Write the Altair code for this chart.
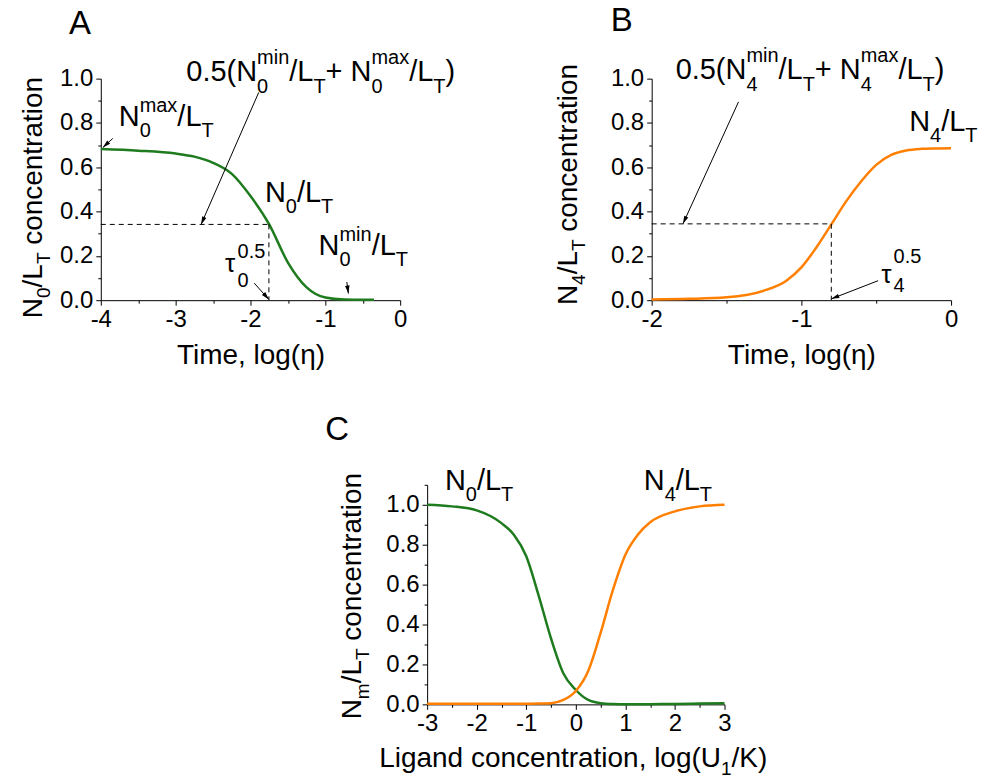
import math
import altair as alt
import pandas as pd

FONT = "Liberation Sans"
GREEN = "#1e7b1e"
ORANGE = "#ff7f00"

# ---- Panel A: unbound fraction N0/LT against log time ----
a_logt = [-4.0, -3.5, -3.0, -2.75, -2.5, -2.25, -2.0, -1.75, -1.5, -1.25, -1.0, -0.75, -0.5, -0.35]
a_n0 = [0.682, 0.675, 0.662, 0.648, 0.62, 0.57, 0.47, 0.342, 0.17, 0.058, 0.012, 0.003, 0.002, 0.002]
a_tau = -1.754

# ---- Panel B: fully bound fraction N4/LT against log time ----
b_logt = [-2.0, -1.75, -1.5, -1.25, -1.1, -1.0, -0.9, -0.8, -0.7, -0.6, -0.5, -0.4, -0.3, -0.2, -0.1, 0.0]
b_n4 = [0.003, 0.006, 0.013, 0.043, 0.088, 0.148, 0.238, 0.342, 0.447, 0.537, 0.611, 0.656, 0.676, 0.683, 0.685, 0.686]
b_tau = -0.8

# ---- Panel C: steady state against log ligand concentration ----
c_logu = [-3.0, -2.5, -2.0, -1.5, -1.25, -1.0, -0.75, -0.5, -0.25, 0.0, 0.25, 0.5, 0.75, 1.0, 1.25, 1.5, 2.0, 2.5, 3.0]
c_n0 = [1.0, 0.992, 0.972, 0.908, 0.85, 0.742, 0.545, 0.33, 0.155, 0.072, 0.022, 0.006, 0.002, 0.001, 0.001, 0.001, 0.002, 0.004, 0.006]
c_n4 = [0.003, 0.003, 0.003, 0.003, 0.003, 0.003, 0.004, 0.006, 0.022, 0.067, 0.167, 0.358, 0.575, 0.75, 0.85, 0.912, 0.967, 0.992, 1.0]

# approximate Arial / Liberation Sans advance widths (per 1000 em)
ADV = {"0": 556, "1": 556, "4": 556, "5": 556, ".": 278, "(": 333, ")": 333, "N": 722,
       "/": 278, "L": 556, "T": 611, "+": 584, " ": 278, "m": 833, "i": 222, "n": 556,
       "a": 556, "x": 500, "c": 500, "o": 556, "e": 556, "t": 278, "r": 333, ",": 278,
       "l": 222, "g": 556, "U": 722, "K": 667, "d": 556, "\u03c4": 480}


def text_width(s, size):
    return sum(ADV.get(ch, 556) for ch in s) / 1000.0 * size


MAJOR_Y = "round(datum.value * 10) % 2 == 0"
MAJOR_X = "datum.value % 1 == 0"


def x_axis(values, title=None):
    kw = dict(values=values, labelExpr=f"{MAJOR_X} ? '' + datum.value : ''",
              tickSize={"condition": {"test": MAJOR_X, "value": 5}, "value": 3},
              labelFontSize=24, labelPadding=2, labelFont=FONT, labelColor="black",
              domainColor="black", tickColor="black", grid=False, labelFlush=False,
              labelOverlap=False, title=title)
    if title:
        kw.update(titleFont=FONT, titleFontSize=28, titleFontWeight="normal",
                  titleColor="black", titlePadding=10)
    return alt.Axis(**kw)


def y_axis(values):
    return alt.Axis(values=values, title=None,
                    labelExpr=f"{MAJOR_Y} ? format(datum.value, '.1f') : ''",
                    tickSize={"condition": {"test": MAJOR_Y, "value": 5}, "value": 3},
                    labelFontSize=24, labelPadding=3, labelFont=FONT, labelColor="black",
                    domainColor="black", tickColor="black", grid=False, labelFlush=False,
                    labelOverlap=False)


class Panel:
    def __init__(self, xdom, ydom, width, height, xax, yax):
        self.width, self.height = width, height
        self.kx = width / (xdom[1] - xdom[0])
        self.ky = height / (ydom[1] - ydom[0])
        self.xs = alt.Scale(domain=xdom, nice=False, zero=False)
        self.ys = alt.Scale(domain=ydom, nice=False, zero=False)
        self.xax, self.yax = xax, yax

    def X(self, field):
        return alt.X(field, scale=self.xs, axis=self.xax)

    def Y(self, field):
        return alt.Y(field, scale=self.ys, axis=self.yax)


y_ticks_01 = [round(i * 0.1, 1) for i in range(11)]
y_ticks_011 = [round(i * 0.1, 1) for i in range(12)]

PA = Panel([-4, 0], [0, 1], 300, 222,
           x_axis([v / 2 for v in range(-8, 1)], "Time, log(\u03b7)"), y_axis(y_ticks_01))
PB = Panel([-2, 0], [0, 1], 300, 222,
           x_axis([v / 2 for v in range(-4, 1)], "Time, log(\u03b7)"), y_axis(y_ticks_01))
PC = Panel([-3, 3], [0, 1.1], 298, 220,
           x_axis([v / 2 for v in range(-6, 7)]), y_axis(y_ticks_011))


def rich(parts, x0, y0, P, big, small, sub=11, sup=15, vertical=False):
    """Lay out text pieces with sub/superscripts; returns rows in data units."""
    rows, along, i = [], 0.0, 0
    while i < len(parts):
        txt, role = parts[i]
        if role == "n":
            stripped = txt.lstrip(" ")
            along += text_width(txt[: len(txt) - len(stripped)], big)
            rows.append((stripped, along, 0.0, big))
            along += text_width(stripped, big)
            i += 1
        else:
            wmax = 0.0
            while i < len(parts) and parts[i][1] != "n":
                t2, r2 = parts[i]
                rows.append((t2, along, sub if r2 == "b" else -sup, small))
                wmax = max(wmax, text_width(t2, small))
                i += 1
            along += wmax
    out = []
    for txt, al, ac, sz in rows:
        if vertical:
            out.append({"x": x0 + ac / P.kx, "y": y0 + al / P.ky, "t": txt, "s": sz})
        else:
            out.append({"x": x0 + al / P.kx, "y": y0 - ac / P.ky, "t": txt, "s": sz})
    return out


def text_layer(rows, P, angle=0):
    return alt.Chart(pd.DataFrame(rows)).mark_text(
        align="left", baseline="alphabetic", font=FONT, color="black", angle=angle
    ).encode(
        x=P.X("x:Q"), y=P.Y("y:Q"), text="t:N",
        size=alt.Size("s:Q", scale=None, legend=None),
    )


ARROW_HEAD = "M0,0L0.45,1.6L-0.45,1.6Z"


def arrow_layers(segs, P):
    rows = []
    for x1, y1, x2, y2 in segs:
        ang = math.degrees(math.atan2((x2 - x1) * P.kx, (y2 - y1) * P.ky)) % 360
        rows.append({"x1": x1, "y1": y1, "x2": x2, "y2": y2, "ang": ang})
    df = pd.DataFrame(rows)
    shaft = alt.Chart(df).mark_rule(color="black", strokeWidth=1).encode(
        x=P.X("x1:Q"), y=P.Y("y1:Q"), x2="x2:Q", y2="y2:Q")
    head = alt.Chart(df).mark_point(shape=ARROW_HEAD, filled=True, color="black",
                                    opacity=1, size=100, strokeWidth=0).encode(
        x=P.X("x2:Q"), y=P.Y("y2:Q"), angle=alt.Angle("ang:Q", scale=None))
    return [shaft, head]


def dashed_layer(x_start, tau, half, P):
    df = pd.DataFrame({"x1": [x_start, tau], "y1": [half, half], "x2": [tau, tau], "y2": [half, 0.0]})
    return alt.Chart(df).mark_rule(color="black", strokeWidth=1, strokeDash=[5, 4]).encode(
        x=P.X("x1:Q"), y=P.Y("y1:Q"), x2="x2:Q", y2="y2:Q")


def curve(xv, yv, color, P):
    df = pd.DataFrame({"x": xv, "y": yv})
    return alt.Chart(df).mark_line(color=color, strokeWidth=2.5, interpolate="monotone").encode(
        x=P.X("x:Q"), y=P.Y("y:Q"))


def letter(txt, x, y, P):
    return text_layer([{"x": x, "y": y, "t": txt, "s": 33}], P)


# ---------------- Panel A ----------------
half_a = 0.5 * (min(a_n0) + max(a_n0))
a_texts = (
    rich([("0.5(N", "n"), ("min", "p"), ("0", "b"), ("/L", "n"), ("T", "b"), ("+ N", "n"),
          ("max", "p"), ("0", "b"), ("/L", "n"), ("T", "b"), (")", "n")],
         -2.857, 0.99, PA, 29, 20, sub=12, sup=17)
    + rich([("N", "n"), ("max", "p"), ("0", "b"), ("/L", "n"), ("T", "b")], -3.76, 0.788, PA, 29, 20, 11, 14)
    + rich([("N", "n"), ("0", "b"), ("/L", "n"), ("T", "b")], -1.807, 0.441, PA, 29, 20, 11, 14)
    + rich([("N", "n"), ("min", "p"), ("0", "b"), ("/L", "n"), ("T", "b")], -1.09, 0.203, PA, 29, 20, 11, 14)
    + rich([("\u03c4", "n"), ("0.5", "p"), ("0", "b")], -2.339, 0.126, PA, 26, 20, 15, 14)
)
a_ytitle = rich([("N", "n"), ("0", "b"), ("/L", "n"), ("T", "b"), (" concentration", "n")],
                -4.784, -0.081, PA, 28, 19, sub=8, vertical=True)

panel_a = alt.layer(
    curve(a_logt, a_n0, GREEN, PA),
    dashed_layer(-4.0, a_tau, half_a, PA),
    *arrow_layers([(-1.89, 0.938, -2.66, half_a), (-3.84, 0.73, -3.973, 0.689),
                   (-1.95, 0.077, a_tau, 0.003), (-0.713, 0.082, -0.692, 0.03)], PA),
    text_layer(a_texts, PA),
    text_layer(a_ytitle, PA, angle=270),
    letter("A", -4.425, 1.203, PA),
).properties(width=PA.width, height=PA.height)

# ---------------- Panel B ----------------
half_b = 0.5 * (min(b_n4) + max(b_n4))
b_texts = (
    rich([("0.5(N", "n"), ("min", "p"), ("4", "b"), ("/L", "n"), ("T", "b"), ("+ N", "n"),
          ("max", "p"), ("4", "b"), ("/L", "n"), ("T", "b"), (")", "n")],
         -1.84, 1.0, PB, 29, 20, sub=12, sup=17)
    + rich([("N", "n"), ("4", "b"), ("/L", "n"), ("T", "b")], -0.28, 0.762, PB, 29, 20, 11, 14)
    + rich([("\u03c4", "n"), ("0.5", "p"), ("4", "b")], -0.467, 0.076, PB, 26, 20, 9, 20)
)
b_ytitle = rich([("N", "n"), ("4", "b"), ("/L", "n"), ("T", "b"), (" concentration", "n")],
                -2.5, -0.022, PB, 28, 19, sub=8, vertical=True)

panel_b = alt.layer(
    curve(b_logt, b_n4, ORANGE, PB),
    dashed_layer(-2.0, b_tau, half_b, PB),
    *arrow_layers([(-1.42, 0.895, -1.791, half_b), (-0.487, 0.088, b_tau, 0.006)], PB),
    text_layer(b_texts, PB),
    text_layer(b_ytitle, PB, angle=270),
    letter("B", -2.273, 1.215, PB),
).properties(width=PB.width, height=PB.height)

# ---------------- Panel C ----------------
c_texts = (
    rich([("N", "n"), ("0", "b"), ("/L", "n"), ("T", "b")], -2.64, 1.075, PC, 29, 20, 11, 14)
    + rich([("N", "n"), ("4", "b"), ("/L", "n"), ("T", "b")], 1.37, 1.075, PC, 29, 20, 11, 14)
    + rich([("Ligand concentration, log(U", "n"), ("1", "b"), ("/K)", "n")],
           -3.966, -0.315, PC, 28, 19, sub=8)
)
c_ytitle = rich([("N", "n"), ("m", "b"), ("/L", "n"), ("T", "b"), (" concentration", "n")],
                -4.33, -0.075, PC, 28, 19, sub=8, vertical=True)

panel_c = alt.layer(
    curve(c_logu, c_n0, GREEN, PC),
    curve(c_logu, c_n4, ORANGE, PC),
    text_layer(c_texts, PC),
    text_layer(c_ytitle, PC, angle=270),
    letter("C", -5.054, 1.325, PC),
).properties(width=PC.width, height=PC.height)

# empty block that shifts panel C towards the middle of the lower row
spacer = alt.Chart(pd.DataFrame({"v": [0]})).mark_point(opacity=0).encode(
    x=alt.X("v:Q", axis=None), y=alt.Y("v:Q", axis=None)
).properties(width=100, height=220)

top_row = alt.hconcat(panel_a, panel_b, spacing=252, bounds="flush")
bottom_row = alt.hconcat(spacer, panel_c, spacing=227, bounds="flush")

chart = alt.vconcat(top_row, bottom_row, spacing=45).properties(
    padding={"left": 20, "top": 4, "right": 5, "bottom": 5},
    background="white",
).configure_view(stroke=None)

chart.save("out.html", embed_options={"renderer": "svg", "actions": False})
